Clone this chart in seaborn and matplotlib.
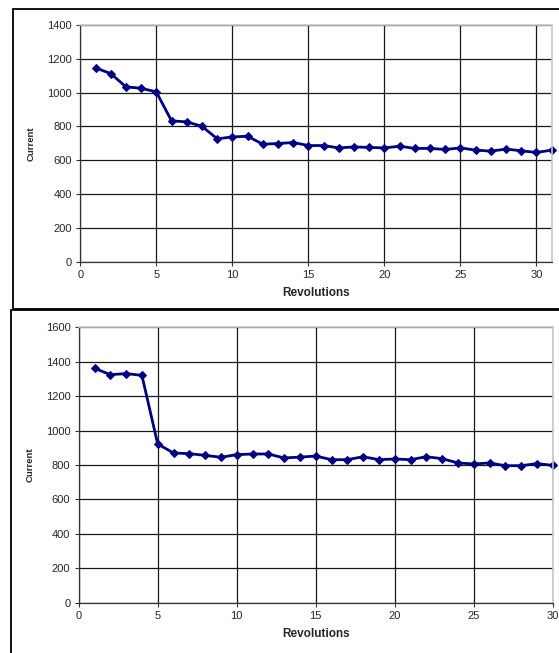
import pandas as pd
import numpy as np
import matplotlib.pyplot as plt
import seaborn as sns
from matplotlib.patches import Rectangle

# data
rev_top = list(range(1, 32))
current_top = [1146, 1113, 1034, 1026, 1004, 833, 827, 801, 727, 738,
               742, 695, 699, 705, 687, 687, 673, 679, 676, 673,
               683, 670, 670, 664, 673, 660, 654, 666, 656, 646, 660]

rev_bottom = list(range(1, 31))
current_bottom = [1362, 1325, 1331, 1321, 922, 870, 866, 856, 845, 860,
                  864, 864, 841, 846, 852, 831, 831, 848, 831, 835,
                  831, 848, 837, 812, 806, 812, 796, 796, 808, 798]

sns.set_theme(style="white")
plt.rcParams['font.family'] = ['Liberation Sans', 'DejaVu Sans']

W, H = 559, 653
fig = plt.figure(figsize=(W / 100, H / 100), dpi=100)


def px_axes(left, top, right, bottom):
    return fig.add_axes([left / W, 1 - bottom / H, (right - left) / W, (bottom - top) / H])


def style_ax(ax, xmax, ymax, ystep):
    ax.set_xlim(0, xmax)
    ax.set_ylim(0, ymax)
    ax.set_xticks(np.arange(0, 31, 5))
    ax.set_yticks(np.arange(0, ymax + 1, ystep))
    ax.grid(True, color='#1a1a1a', linewidth=0.9)
    ax.set_axisbelow(True)
    for s in ['top', 'right']:
        ax.spines[s].set_color('#c8c8c8')
        ax.spines[s].set_linewidth(1.2)
    for s in ['left', 'bottom']:
        ax.spines[s].set_color('#333333')
        ax.spines[s].set_linewidth(0.9)
    ax.tick_params(axis='both', which='both', direction='out', length=3, width=0.8,
                   color='#333333', labelsize=8, pad=3, bottom=True, left=True)
    ax.set_xlabel('Revolutions', fontsize=8.5, fontweight='bold', labelpad=5)
    ax.set_ylabel('Current', fontsize=6.8, fontweight='bold', labelpad=8)


# outer chart frames
fig.patches.append(Rectangle((12.7 / W, 1 - 308.5 / H), 1.0, (308.5 - 9.3) / H,
                             transform=fig.transFigure, fill=False, ec='black', lw=1.3))
fig.patches.append(Rectangle((10.7 / W, -0.1), 1.0, 1 - 310 / H + 0.1,
                             transform=fig.transFigure, fill=False, ec='black', lw=1.3))

df_top = pd.DataFrame({'Revolutions': rev_top, 'Current': current_top})
df_bottom = pd.DataFrame({'Revolutions': rev_bottom, 'Current': current_bottom})

ax1 = px_axes(80.3, 25, 551.7, 261.7)
sns.lineplot(data=df_top, x='Revolutions', y='Current', ax=ax1, color='#000080',
             linewidth=2, marker='D', markersize=4.5, markeredgecolor='#000080', clip_on=False)
style_ax(ax1, 31, 1400, 200)

ax2 = px_axes(78.7, 327.3, 552.7, 602.7)
sns.lineplot(data=df_bottom, x='Revolutions', y='Current', ax=ax2, color='#000080',
             linewidth=2, marker='D', markersize=4.5, markeredgecolor='#000080', clip_on=False)
style_ax(ax2, 30, 1600, 200)

plt.savefig('out.png', dpi=100)
